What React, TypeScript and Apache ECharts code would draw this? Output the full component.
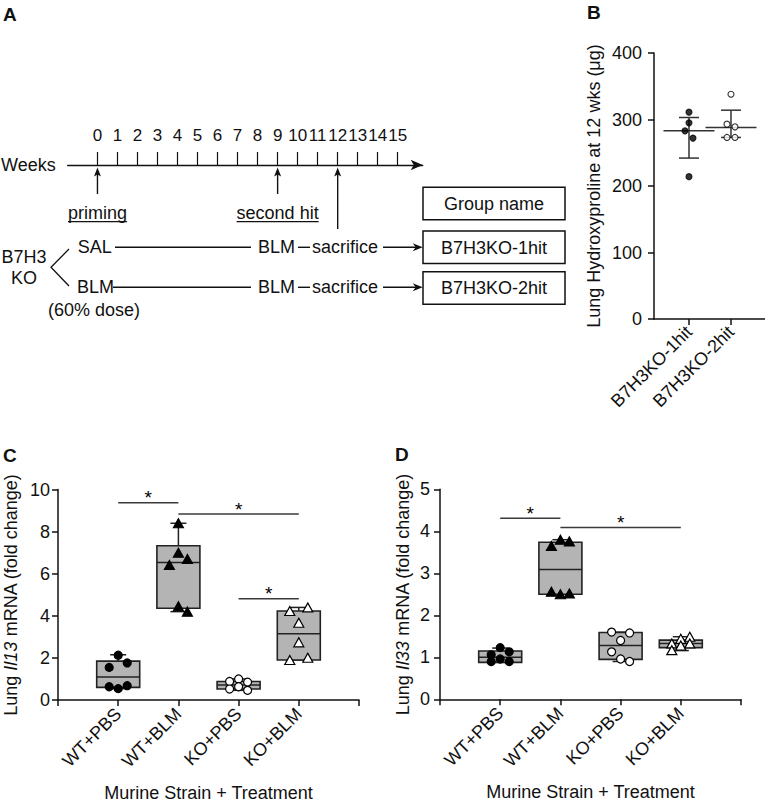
import React, { useEffect, useRef } from "react";
import * as echarts from "echarts";

const FONT = '"Liberation Sans", Arial, Helvetica, sans-serif';
const INK = "#111111";
const FS = 18;

// ---------- Panel A : protocol ----------
const weeks = [0, 1, 2, 3, 4, 5, 6, 7, 8, 9, 10, 11, 12, 13, 14, 15];
const eventWeeks = [0, 9, 12];
const eventLabels = ["priming", "second hit", ""];
const groupHeader = "Group name";
const groupNames = ["B7H3KO-1hit", "B7H3KO-2hit"];
const primingTreatments = ["SAL", "BLM"];
const secondHitTreatment = "BLM";
const endpointLabel = "sacrifice";

// ---------- Panel B : hydroxyproline ----------
const hypCategories = ["B7H3KO-1hit", "B7H3KO-2hit"];
const hyp1hit = [311, 295, 283, 272, 214];
const hyp2hit = [338, 293, 289, 273, 273];
const hypMean = [283, 288];
const hypErrLow = [242, 273];
const hypErrHigh = [303, 314];

// ---------- Panel C : Il13 ----------
const treatments = ["WT+PBS", "WT+BLM", "KO+PBS", "KO+BLM"];
const il13WTPBS = [2.13, 1.55, 1.76, 0.63, 0.54, 0.68];
const il13WTBLM = [8.4, 7.0, 6.7, 6.42, 4.45, 4.2];
const il13KOPBS = [0.88, 1.0, 0.85, 0.52, 0.63, 0.46];
const il13KOBLM = [4.23, 4.4, 3.67, 2.74, 1.9, 2.01];
// [min, Q1, median, Q3, max]
const il13Box = [
  [0.54, 0.6, 1.09, 1.85, 2.15],
  [4.2, 4.36, 6.54, 7.33, 8.4],
  [0.46, 0.52, 0.71, 0.88, 1.0],
  [1.9, 1.9, 3.15, 4.23, 4.4],
];
// [from treatment #, to treatment #, height]
const il13Sig = [
  [1, 2, 9.38],
  [2, 4, 8.84],
  [3, 4, 4.81],
];

// ---------- Panel D : Il33 ----------
const il33WTPBS = [1.23, 1.06, 1.13, 0.9, 0.96, 0.9];
const il33WTBLM = [3.8, 3.65, 3.76, 2.56, 2.5, 2.52];
const il33KOPBS = [1.6, 1.58, 1.4, 1.13, 0.96, 0.9];
const il33KOBLM = [1.33, 1.44, 1.49, 1.17, 1.28, 1.33];
const il33Box = [
  [0.88, 0.88, 1.0, 1.15, 1.22],
  [2.5, 2.5, 3.09, 3.74, 3.8],
  [0.9, 0.95, 1.28, 1.59, 1.6],
  [1.16, 1.23, 1.33, 1.41, 1.49],
];
const il33Sig = [
  [1, 2, 4.31],
  [2, 4, 4.09],
];

// ---------- styling (pixel jitter, markers) ----------
const jitterB = [
  [0, 0, -4, 4, 0],
  [0, -4, 4, -4, 4],
];
const jitterC = [
  [0, -9, 9, -9, 0, 9],
  [0, 0, 9, -9, 0, 9],
  [-9, 0, 9, -9, 0, 9],
  [-9, 9, 0, 0, -9, 9],
];
const jitterD = [
  [0, -9, 9, -9, 0, 9],
  [0, -9, 9, -9, 0, 9],
  [-9, 9, 0, -9, 0, 9],
  [-9, 0, 9, -9, 0, 9],
];
const markerShapes = ["circle", "triangle", "circle", "triangle"];
const markerFills = ["#000", "#000", "#fff", "#fff"];
const BOX_FILL = "#b4b4b4";

function measure(text: string, size: number) {
  const ctx = document.createElement("canvas").getContext("2d");
  if (!ctx) return text.length * size * 0.5;
  ctx.font = `${size}px ${FONT}`;
  return ctx.measureText(text).width;
}

const txt = (
  text: string,
  x: number,
  y: number,
  align = "left",
  size = FS,
  weight = "normal"
) => ({
  type: "text",
  x,
  y,
  style: {
    text,
    fontSize: size,
    fontFamily: FONT,
    fontWeight: weight,
    fill: INK,
    textAlign: align,
    textVerticalAlign: "middle",
    align,
    verticalAlign: "middle",
  },
});
const seg = (x1: number, y1: number, x2: number, y2: number, w = 1.4) => ({
  type: "line",
  shape: { x1, y1, x2, y2 },
  style: { stroke: INK, lineWidth: w },
});
const arrowRight = (x1: number, x2: number, y: number) => [
  seg(x1, y, x2 - 6, y),
  {
    type: "polygon",
    shape: { points: [[x2, y], [x2 - 10, y - 4], [x2 - 7, y], [x2 - 10, y + 4]] },
    style: { fill: INK },
  },
];

function pointSeries(groups: number[][], jit: number[][], axis: number, size: number) {
  return groups.map((vals, g) => ({
    type: "scatter",
    xAxisIndex: axis,
    yAxisIndex: axis,
    symbol: markerShapes[g],
    symbolSize: markerShapes[g] === "triangle" ? [10, 9] : size,
    itemStyle: { color: markerFills[g], borderColor: "#000", borderWidth: 1.2, opacity: 1 },
    z: 5,
    silent: true,
    data: vals.map((v, i) => ({ value: [g + 1, v], symbolOffset: [jit[g][i], 0] })),
  }));
}

function boxSeries(boxes: number[][], axis: number) {
  return {
    type: "custom",
    xAxisIndex: axis,
    yAxisIndex: axis,
    z: 2,
    silent: true,
    encode: { x: 0, y: [1, 2, 3, 4, 5] },
    data: boxes.map((b, g) => [g + 1, ...b]),
    renderItem: (_p: any, api: any) => {
      const x = api.value(0);
      const c = (v: number) => api.coord([x, v]);
      const cx = c(api.value(1))[0];
      const yMin = c(api.value(1))[1];
      const yQ1 = c(api.value(2))[1];
      const yMed = c(api.value(3))[1];
      const yQ3 = c(api.value(4))[1];
      const yMax = c(api.value(5))[1];
      const hw = 21.5;
      const cw = 8;
      const st = { stroke: "#222", lineWidth: 1.5 };
      return {
        type: "group",
        children: [
          { type: "line", shape: { x1: cx, y1: yMax, x2: cx, y2: yQ3 }, style: st },
          { type: "line", shape: { x1: cx - cw, y1: yMax, x2: cx + cw, y2: yMax }, style: st },
          { type: "line", shape: { x1: cx, y1: yMin, x2: cx, y2: yQ1 }, style: st },
          { type: "line", shape: { x1: cx - cw, y1: yMin, x2: cx + cw, y2: yMin }, style: st },
          {
            type: "rect",
            shape: { x: cx - hw, y: yQ3, width: hw * 2, height: yQ1 - yQ3 },
            style: { fill: BOX_FILL, stroke: "#222", lineWidth: 1.6 },
          },
          { type: "line", shape: { x1: cx - hw, y1: yMed, x2: cx + hw, y2: yMed }, style: st },
        ],
      };
    },
  };
}

function sigSeries(sig: number[][], axis: number) {
  return {
    type: "custom",
    xAxisIndex: axis,
    yAxisIndex: axis,
    z: 3,
    silent: true,
    encode: { x: [0, 1], y: 2 },
    data: sig,
    renderItem: (_p: any, api: any) => {
      const a = api.coord([api.value(0), api.value(2)]);
      const b = api.coord([api.value(1), api.value(2)]);
      return {
        type: "group",
        children: [
          {
            type: "line",
            shape: { x1: a[0], y1: a[1], x2: b[0], y2: b[1] },
            style: { stroke: "#3a3a3a", lineWidth: 1.5 },
          },
          {
            type: "text",
            x: (a[0] + b[0]) / 2,
            y: a[1] - 5,
            style: {
              text: "*",
              fontSize: 19,
              fontFamily: FONT,
              fill: "#000",
              textAlign: "center",
              textVerticalAlign: "middle",
              align: "center",
              verticalAlign: "middle",
            },
          },
        ],
      };
    },
  };
}

const axisText = { color: INK, fontSize: FS, fontFamily: FONT };
const axisLineStyle = { color: INK, width: 1.5 };

function mrnaXAxis(grid: number) {
  return {
    type: "value",
    gridIndex: grid,
    min: 0,
    max: 5,
    interval: 1,
    axisLine: { show: true, lineStyle: axisLineStyle },
    axisTick: { show: true, length: 6, lineStyle: axisLineStyle },
    axisLabel: {
      ...axisText,
      rotate: 45,
      margin: 11,
      formatter: (v: number) => treatments[v - 1] ?? "",
    },
    splitLine: { show: false },
    name: "Murine Strain + Treatment",
    nameLocation: "middle",
    nameGap: 84,
    nameTextStyle: { ...axisText },
  };
}

function mrnaYAxis(grid: number, max: number, interval: number, gene: string, gap: number, margin: number) {
  return {
    type: "value",
    gridIndex: grid,
    min: 0,
    max,
    interval,
    axisLine: { show: true, lineStyle: axisLineStyle },
    axisTick: { show: true, length: 6, lineStyle: axisLineStyle },
    axisLabel: { ...axisText, margin },
    splitLine: { show: false },
    name: `Lung {i|${gene}} mRNA (fold change)`,
    nameLocation: "middle",
    nameRotate: 90,
    nameGap: gap,
    nameTextStyle: {
      ...axisText,
      rich: { i: { fontStyle: "italic", fontSize: FS, fontFamily: FONT, color: INK } },
    },
  };
}

function buildOption() {
  const rowY = [247.3, 287.3];
  const rowStart = [77.7, 77];
  const rowLineStart = [115, 113];
  const graphics: any[] = [];
  // panel letters
  graphics.push(txt("A", 3, 14, "left", 19, "bold"));
  graphics.push(txt("B", 587, 12, "left", 19, "bold"));
  graphics.push(txt("C", 3, 455, "left", 19, "bold"));
  graphics.push(txt("D", 395, 454, "left", 19, "bold"));
  // rows of the protocol
  rowY.forEach((y, r) => {
    graphics.push(txt(primingTreatments[r], rowStart[r], y));
    graphics.push(seg(rowLineStart[r], y, 251, y));
    graphics.push(txt(secondHitTreatment, 258, y));
    graphics.push(seg(298, y, 310, y));
    graphics.push(txt(endpointLabel, 312, y));
    graphics.push(...arrowRight(383, 422.7, y));
  });
  graphics.push(txt("B7H3", 24, 257, "center"));
  graphics.push(txt("KO", 24, 278, "center"));
  graphics.push(txt("(60% dose)", 48, 309.5));
  graphics.push({
    type: "polyline",
    shape: { points: [[69, 249], [51, 267.3], [69, 286]] },
    style: { stroke: INK, lineWidth: 1.3, fill: null },
  });
  // group boxes
  const boxTop = [187.3, 231, 271.7];
  [groupHeader, ...groupNames].forEach((name, i) => {
    graphics.push({
      type: "rect",
      shape: { x: 423, y: boxTop[i], width: 142, height: 32.5 },
      style: { fill: "#fff", stroke: INK, lineWidth: 1.5 },
    });
    graphics.push(txt(name, 494, boxTop[i] + 16.5, "center"));
  });

  const series: any[] = [];
  // Panel A events (arrows + underlined labels) on week axis
  const arrowLen = [29, 29, 64];
  series.push({
    type: "custom",
    xAxisIndex: 0,
    yAxisIndex: 0,
    silent: true,
    clip: false,
    data: eventWeeks.map((w, i) => [w, i]),
    encode: { x: 0 },
    renderItem: (p: any, api: any) => {
      const [x, y0] = api.coord([api.value(0), 0]);
      const i = p.dataIndex;
      const tip = y0 + 2.5;
      const ch: any[] = [
        { type: "line", shape: { x1: x, y1: tip + 6, x2: x, y2: y0 + arrowLen[i] }, style: { stroke: INK, lineWidth: 1.4 } },
        {
          type: "polygon",
          shape: { points: [[x, tip], [x - 3.5, tip + 9], [x, tip + 7], [x + 3.5, tip + 9]] },
          style: { fill: INK },
        },
      ];
      const label = eventLabels[i];
      if (label) {
        const w = measure(label, FS);
        ch.push({
          type: "text",
          x,
          y: y0 + 48,
          style: {
            text: label,
            fontSize: FS,
            fontFamily: FONT,
            fill: INK,
            textAlign: "center",
            textVerticalAlign: "middle",
            align: "center",
            verticalAlign: "middle",
          },
        });
        ch.push({
          type: "line",
          shape: { x1: x - w / 2, y1: y0 + 56.7, x2: x + w / 2, y2: y0 + 56.7 },
          style: { stroke: INK, lineWidth: 1.2 },
        });
      }
      return { type: "group", children: ch };
    },
  });

  // Panel B
  series.push({
    type: "custom",
    xAxisIndex: 1,
    yAxisIndex: 1,
    silent: true,
    z: 2,
    encode: { x: 0, y: [1, 2, 3] },
    data: hypMean.map((m, g) => [g + 1, m, hypErrLow[g], hypErrHigh[g]]),
    renderItem: (_p: any, api: any) => {
      const x = api.value(0);
      const [cx, ym] = api.coord([x, api.value(1)]);
      const yl = api.coord([x, api.value(2)])[1];
      const yh = api.coord([x, api.value(3)])[1];
      const st = { stroke: "#333", lineWidth: 1.5 };
      return {
        type: "group",
        children: [
          { type: "line", shape: { x1: cx - 25.5, y1: ym, x2: cx + 25.5, y2: ym }, style: st },
          { type: "line", shape: { x1: cx, y1: yl, x2: cx, y2: yh }, style: st },
          { type: "line", shape: { x1: cx - 10, y1: yl, x2: cx + 10, y2: yl }, style: st },
          { type: "line", shape: { x1: cx - 10, y1: yh, x2: cx + 10, y2: yh }, style: st },
        ],
      };
    },
  });
  [hyp1hit, hyp2hit].forEach((vals, g) => {
    series.push({
      type: "scatter",
      xAxisIndex: 1,
      yAxisIndex: 1,
      symbol: "circle",
      symbolSize: 6,
      silent: true,
      z: 5,
      itemStyle: { color: g === 0 ? "#000" : "#fff", borderColor: "#000", borderWidth: 1.1 },
      data: vals.map((v, i) => ({ value: [g + 1, v], symbolOffset: [jitterB[g][i], 0] })),
    });
  });

  // Panel C
  series.push(boxSeries(il13Box, 2));
  series.push(sigSeries(il13Sig, 2));
  series.push(...pointSeries([il13WTPBS, il13WTBLM, il13KOPBS, il13KOBLM], jitterC, 2, 8));
  // Panel D
  series.push(boxSeries(il33Box, 3));
  series.push(sigSeries(il33Sig, 3));
  series.push(...pointSeries([il33WTPBS, il33WTBLM, il33KOPBS, il33KOBLM], jitterD, 3, 8));

  return {
    animation: false,
    textStyle: { fontFamily: FONT },
    grid: [
      { left: 65, top: 100, width: 357.7, height: 65 },
      { left: 654, top: 53, width: 111, height: 266 },
      { left: 58, top: 489.6, width: 301, height: 210.4 },
      { left: 440, top: 489.3, width: 301, height: 210 },
    ],
    xAxis: [
      {
        type: "value",
        gridIndex: 0,
        min: -1.487,
        max: 16.247,
        axisLine: {
          show: true,
          lineStyle: { color: INK, width: 1.4 },
          symbol: ["none", "arrow"],
          symbolSize: [8, 12],
          symbolOffset: [0, 0],
        },
        axisTick: { show: true, inside: true, length: 13, customValues: weeks, lineStyle: { color: INK, width: 1.2 } },
        axisLabel: { ...axisText, fontSize: 17, inside: true, margin: 21, customValues: weeks },
        splitLine: { show: false },
        name: "Weeks",
        nameLocation: "start",
        nameGap: 12,
        nameTextStyle: { ...axisText },
      },
      {
        type: "value",
        gridIndex: 1,
        min: 0.1667,
        max: 2.81,
        axisLine: { show: true, lineStyle: axisLineStyle },
        axisTick: { show: true, length: 6, customValues: [1, 2], lineStyle: axisLineStyle },
        axisLabel: {
          ...axisText,
          rotate: 45,
          margin: 10,
          customValues: [1, 2],
          formatter: (v: number) => hypCategories[Math.round(v) - 1] ?? "",
        },
        splitLine: { show: false },
      },
      mrnaXAxis(2),
      mrnaXAxis(3),
    ],
    yAxis: [
      { type: "value", gridIndex: 0, min: 0, max: 1, show: false },
      {
        type: "value",
        gridIndex: 1,
        min: 0,
        max: 400,
        interval: 100,
        axisLine: { show: true, lineStyle: axisLineStyle },
        axisTick: { show: true, length: 6, lineStyle: axisLineStyle },
        axisLabel: { ...axisText, margin: 12 },
        splitLine: { show: false },
        name: "Lung Hydroxyproline at 12 wks (μg)",
        nameLocation: "middle",
        nameRotate: 90,
        nameGap: 51,
        nameTextStyle: { ...axisText },
      },
      mrnaYAxis(2, 10, 2, "Il13", 38, 8),
      mrnaYAxis(3, 5, 1, "Il33", 28, 10),
    ],
    graphic: { elements: graphics },
    series,
  };
}

export default function App() {
  const ref = useRef<HTMLDivElement>(null);
  useEffect(() => {
    if (!ref.current) return;
    const chart = echarts.init(ref.current, undefined, { renderer: "svg" });
    chart.setOption(buildOption() as any);
    return () => chart.dispose();
  }, []);
  return (
    <div
      ref={ref}
      style={{ position: "absolute", left: 0, top: 0, width: 765, height: 803, background: "#fff" }}
    />
  );
}
